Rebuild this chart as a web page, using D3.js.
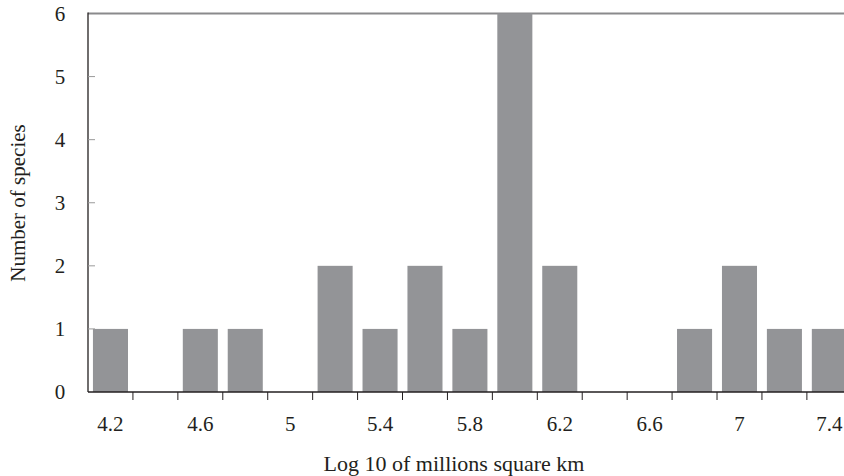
<!DOCTYPE html>
<html>
<head>
<meta charset="utf-8">
<script src="https://cdn.jsdelivr.net/npm/d3@7"></script>
<style>
  body { margin: 0; background: #fff; }
  svg { display: block; overflow: hidden; }
  text { font-family: "Liberation Serif", "DejaVu Serif", serif; fill: #231f20; }
</style>
</head>
<body>
<svg id="drawing_region"></svg>
<script>
const bins = ["4.2","4.4","4.6","4.8","5","5.2","5.4","5.6","5.8","6","6.2","6.4","6.6","6.8","7","7.2","7.4"];
const counts = [1,0,1,1,0,2,1,2,1,6,2,0,0,1,2,1,1];
const xLabels = ["4.2","4.6","5","5.4","5.8","6.2","6.6","7","7.4"];
const yTicks = [0,1,2,3,4,5,6];

const width = 844, height = 476;
const plotLeft = 88, plotTop = 13.5, plotBottom = 392;
const step = 44.93;

const svg = d3.select('#drawing_region')
    .attr('width', width)
    .attr('height', height);

const xscale = d3.scaleBand()
    .domain(bins)
    .range([plotLeft, plotLeft + step * bins.length])
    .paddingInner(0.22)
    .paddingOuter(0.11);

const yscale = d3.scaleLinear()
    .domain([0, 6])
    .range([plotBottom, plotTop]);

// top line at 6
svg.append('line')
    .attr('x1', plotLeft).attr('x2', width)
    .attr('y1', yscale(6)).attr('y2', yscale(6))
    .attr('stroke', '#8a8a8c')
    .attr('stroke-width', 2);

// bars
svg.selectAll('rect.bar')
    .data(bins)
    .enter()
    .append('rect')
    .attr('class', 'bar')
    .attr('x', d => xscale(d))
    .attr('y', (d, i) => yscale(counts[i]))
    .attr('width', xscale.bandwidth())
    .attr('height', (d, i) => yscale(0) - yscale(counts[i]))
    .attr('fill', '#939497');

// x axis: ticks at band boundaries
const xaxis_group = svg.append('g');
xaxis_group.append('line')
    .attr('x1', plotLeft).attr('x2', width)
    .attr('y1', plotBottom).attr('y2', plotBottom)
    .attr('stroke', '#231f20').attr('stroke-width', 1.3);
xaxis_group.selectAll('line.tick')
    .data(bins.slice(1))
    .enter()
    .append('line')
    .attr('class', 'tick')
    .attr('x1', d => xscale(d) - xscale.step() * 0.11)
    .attr('x2', d => xscale(d) - xscale.step() * 0.11)
    .attr('y1', plotBottom).attr('y2', plotBottom + 8)
    .attr('stroke', '#231f20').attr('stroke-width', 1);
xaxis_group.selectAll('text.lab')
    .data(xLabels)
    .enter()
    .append('text')
    .attr('class', 'lab')
    .attr('x', d => xscale(d) + xscale.bandwidth() / 2)
    .attr('y', 431)
    .attr('text-anchor', 'middle')
    .attr('font-size', '21px')
    .text(d => d);

// y axis
const yaxis_group = svg.append('g');
yaxis_group.append('line')
    .attr('x1', plotLeft).attr('x2', plotLeft)
    .attr('y1', plotTop - 1).attr('y2', plotBottom)
    .attr('stroke', '#231f20').attr('stroke-width', 1.3);
yaxis_group.selectAll('line.tick')
    .data(yTicks.slice(1, 6))
    .enter()
    .append('line')
    .attr('class', 'tick')
    .attr('x1', plotLeft).attr('x2', plotLeft + 7)
    .attr('y1', d => yscale(d)).attr('y2', d => yscale(d))
    .attr('stroke', '#9a9a9a').attr('stroke-width', 1);
yaxis_group.selectAll('text.lab')
    .data(yTicks)
    .enter()
    .append('text')
    .attr('class', 'lab')
    .attr('x', 60)
    .attr('y', d => yscale(d))
    .attr('dy', '0.35em')
    .attr('text-anchor', 'middle')
    .attr('font-size', '21px')
    .text(d => d);

// axis titles
svg.append('text')
    .attr('x', 454)
    .attr('y', 471)
    .attr('text-anchor', 'middle')
    .attr('font-size', '22px')
    .text('Log 10 of millions square km');

svg.append('text')
    .attr('transform', 'translate(25, 203) rotate(-90)')
    .attr('text-anchor', 'middle')
    .attr('font-size', '21px')
    .text('Number of species');
</script>
</body>
</html>
